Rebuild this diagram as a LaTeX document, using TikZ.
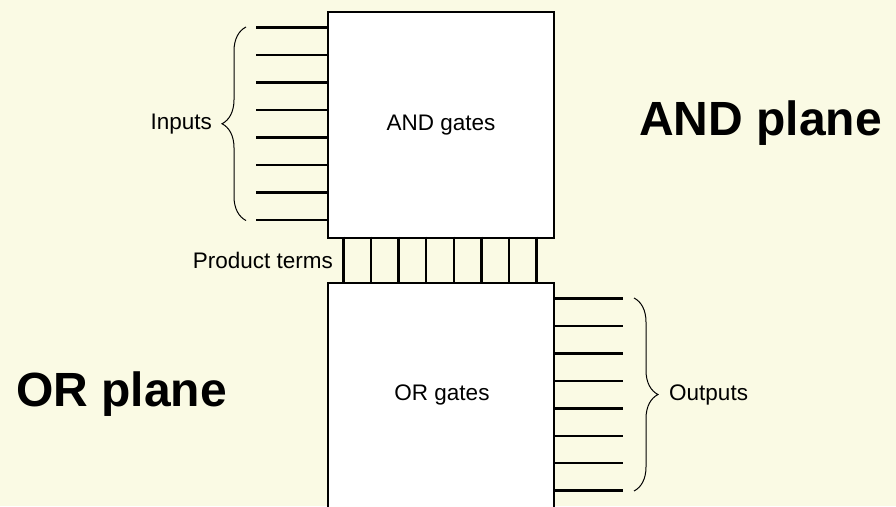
\documentclass[tikz,border=0pt]{standalone}
\usepackage{fontspec}
\setmainfont{Liberation Sans}
\usetikzlibrary{decorations.pathreplacing}
\definecolor{bg}{RGB}{250,250,228}
\begin{document}
\begin{tikzpicture}[x=1pt,y=-1pt,
  box/.style={draw, line width=2.5pt, fill=white, minimum width=226pt, inner sep=0pt, anchor=north west},
  wire/.style={line width=2.5pt},
  bracestyle/.style={decorate, decoration={brace, amplitude=24pt}, line width=1pt},
  lbl/.style={font=\fontsize{22.5}{26}\selectfont, inner sep=0pt},
  big/.style={font=\bfseries\fontsize{48}{54}\selectfont, inner sep=0pt}]
\fill[bg] (0,0) rectangle (896,506);
\useasboundingbox (0,0) rectangle (896,506);
\clip (0,0) rectangle (896,506);
% boxes
\node[box, minimum height=226pt] (andbox) at (326.7,10.7) {};
\node[box, minimum height=260pt] (orbox) at (326.7,281.5) {};
\node[lbl] (andlbl) at (andbox.center) {AND gates};
\node[lbl] (orlbl) at (442,395) {OR gates};
% inputs
\foreach \i in {0,...,7} {
  \coordinate (in\i) at (256,{27.3+27.53*\i});
  \draw[wire] (in\i) -- (in\i -| andbox.west);
}
% product terms
\foreach \i in {0,...,7} {
  \coordinate (p\i) at ({343.3+27.63*\i},236.7);
  \draw[wire] (p\i) -- (p\i |- orbox.north);
}
% outputs
\foreach \i in {0,...,7} {
  \coordinate (out\i) at (623,{298.3+27.49*\i});
  \draw[wire] (out\i -| orbox.east) -- (out\i);
}
% braces
\coordinate (ibt) at (246,220.5);
\coordinate (ibb) at (246,27);
\draw[bracestyle] (ibt) -- (ibb);
\coordinate (obt) at (634,298);
\coordinate (obb) at (634,491);
\draw[bracestyle] (obt) -- (obb);
% labels
\node[lbl, anchor=east] (inlbl) at (212,124) {Inputs};
\node[lbl, anchor=west] (outlbl) at (669,395) {Outputs};
\node[lbl, anchor=east] (ptlbl) at (333,260) {Product terms};
\node[big, anchor=base west] (andplane) at (639,135) {AND plane};
\node[big, anchor=base west] (orplane) at (16,406) {OR plane};
\end{tikzpicture}
\end{document}
